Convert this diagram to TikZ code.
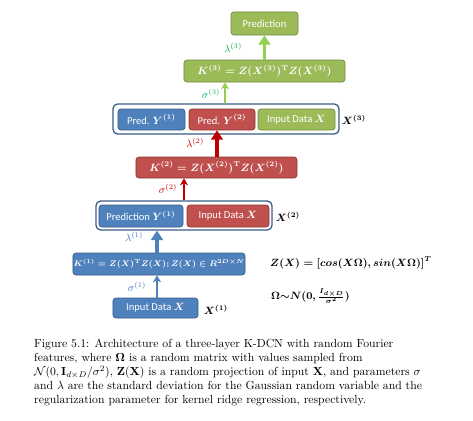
\documentclass[tikz,border=0pt]{standalone}
\usepackage[no-math]{fontspec}
\usepackage{amsmath}
\usepackage{tikz}
\usepackage{xcolor}
\usetikzlibrary{arrows.meta,positioning}
\newfontfamily\boxfont{Carlito}
\definecolor{officeblue}{RGB}{79,129,189}
\definecolor{officebluedark}{RGB}{56,93,138}
\definecolor{officered}{RGB}{192,80,77}
\definecolor{officereddark}{RGB}{140,56,54}
\definecolor{officegreen}{RGB}{155,187,89}
\definecolor{officegreendark}{RGB}{113,137,63}
\definecolor{arrowred}{RGB}{192,0,0}
\definecolor{arrowgreen}{RGB}{146,208,80}
\definecolor{labelgreen}{RGB}{0,176,80}
\definecolor{labelblue}{RGB}{68,114,196}
\newcommand{\lay}[1]{^{(#1)}}

\begin{document}
\begin{tikzpicture}[
    x=0.03cm,y=-0.03cm,
    box/.style={rectangle,rounded corners=2.5pt,line width=0.6pt,inner sep=0pt,
      text=white,font=\boxfont\boldmath\fontsize{9}{10}\selectfont},
    bluebox/.style={box,draw=officebluedark,fill=officeblue},
    redbox/.style={box,draw=officereddark,fill=officered},
    greenbox/.style={box,draw=officegreendark,fill=officegreen},
    frame/.style={rectangle,rounded corners=4pt,draw=officebluedark,line width=1.1pt,fill=white},
    lab/.style={inner sep=0pt,font=\small},
    xlab/.style={inner sep=0pt,font=\boldmath\small},
    thickarrow/.style={-{Triangle[length=8pt,width=10pt]},line width=3.4pt},
    thinarrow/.style={-{Stealth[length=6pt,width=7pt]},line width=1.5pt}
  ]
    \useasboundingbox (0,0) rectangle (473,421);

    % layer 1
    \node[bluebox,minimum width=2.55cm,minimum height=0.60cm] (in1) at (155.5,308) {Input Data $X$};
    \node[bluebox,minimum width=5.16cm,minimum height=0.66cm,font=\boldmath\fontsize{7.4}{9}\selectfont] (k1) at (159,264)
      {$K\lay{1}=Z(X)^{\mathrm{T}}Z(X);Z(X)\in R^{2D\times N}$};

    % layer 2
    \node[frame,minimum width=5.28cm,minimum height=0.87cm] (cont2) at (184,215.5) {};
    \node[bluebox,minimum width=2.52cm,minimum height=0.66cm] (pry1) at (141,216) {Prediction $Y\lay{1}$};
    \node[redbox,minimum width=2.46cm,minimum height=0.66cm] (in2) at (228,216) {Input Data $X$};
    \node[redbox,minimum width=4.83cm,minimum height=0.63cm] (k2) at (216.5,167.5)
      {$K\lay{2}=Z(X\lay{2})^{\mathrm{T}}Z(X\lay{2})$};

    % layer 3
    \node[frame,minimum width=6.78cm,minimum height=0.90cm] (cont3) at (226,119) {};
    \node[bluebox,minimum width=2.01cm,minimum height=0.63cm] (py1) at (151.5,119.5) {Pred. $Y\lay{1}$};
    \node[redbox,minimum width=1.98cm,minimum height=0.63cm] (py2) at (222,119.5) {Pred. $Y\lay{2}$};
    \node[greenbox,minimum width=2.31cm,minimum height=0.63cm] (in3) at (296.5,119.5) {Input Data $X$};
    \node[greenbox,minimum width=4.83cm,minimum height=0.66cm] (k3) at (264.5,71)
      {$K\lay{3}=Z(X\lay{3})^{\mathrm{T}}Z(X\lay{3})$};
    \node[greenbox,minimum width=2.01cm,minimum height=0.69cm] (pred) at (264.5,23.5) {Prediction};

    % connectors
    \draw[thinarrow,officeblue] (in1.north -| 157,0) -- (k1.south -| 157,0);
    \draw[thickarrow,officeblue] (k1.north -| 157,0) -- (cont2.south -| 157,0);
    \draw[thinarrow,arrowred] (cont2.north) -- (cont2.north |- k2.south);
    \draw[thickarrow,arrowred] (k2.north -| 217,0) -- (py2.south -| 217,0);
    \draw[thinarrow,arrowgreen] (cont3.north -| 225,0) -- (k3.south -| 225,0);
    \draw[thickarrow,arrowgreen] (k3.north) -- (pred.south);

    % parameter labels
    \node[lab,text=labelblue] (s1) at (137,287) {$\sigma^{(1)}$};
    \node[lab,text=labelblue] (l1) at (134,237) {$\lambda^{(1)}$};
    \node[lab,text=arrowred] (s2) at (168,189) {$\sigma^{(2)}$};
    \node[lab,text=arrowred] (l2) at (195,143) {$\lambda^{(2)}$};
    \node[lab,text=labelgreen] (s3) at (211,94) {$\sigma^{(3)}$};
    \node[lab,text=labelgreen] (l3) at (233,48) {$\lambda^{(3)}$};

    % input labels
    \node[xlab] (x1) at (216,310) {$X\lay{1}$};
    \node[xlab] (x2) at (288,217) {$X\lay{2}$};
    \node[xlab] (x3) at (354,120) {$X\lay{3}$};

    % feature map
    \node[xlab,anchor=west] (zmap) at (270,263) {$Z(X)=[cos(X\Omega),sin(X\Omega)]^T$};
    \node[xlab,anchor=west] (omega) at (271,296) {$\Omega{\sim}N(0,\frac{I_{d\times D}}{\sigma^2})$};

    % caption
    \node[anchor=north west,inner sep=0pt,align=left,font=\normalsize] (cap) at (34,339)
      {Figure 5.1: Architecture of a three-layer K-DCN with random Fourier\\
       features, where $\mathbf{\Omega}$ is a random matrix with values sampled from\\
       $\mathcal{N}(0,\mathbf{I}_{d\times D}/\sigma^2)$, $\mathbf{Z}(\mathbf{X})$ is a random projection of input $\mathbf{X}$, and parameters $\sigma$\\
       and $\lambda$ are the standard deviation for the Gaussian random variable and the\\
       regularization parameter for kernel ridge regression, respectively.};
\end{tikzpicture}
\end{document}
